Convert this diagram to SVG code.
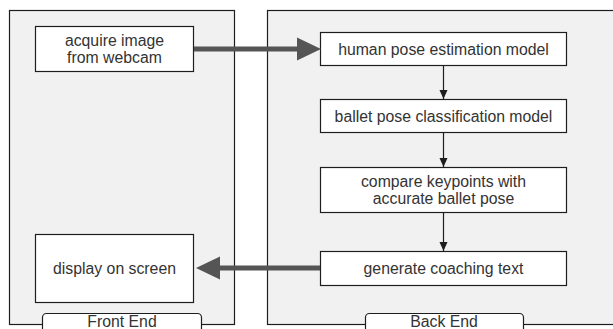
<svg xmlns="http://www.w3.org/2000/svg" width="613" height="329" viewBox="0 0 613 329">
  <defs>
    <style>
      .panel { fill: #f1f1f1; stroke: #1e1e1e; stroke-width: 1.2; }
      .box { fill: #ffffff; stroke: #1e1e1e; stroke-width: 1.2; }
      .lbl { fill: #ffffff; stroke: #1e1e1e; stroke-width: 1.2; }
      .t { font-family: "Liberation Sans", Arial, sans-serif; font-size: 15.8px; fill: #333333; text-anchor: middle; dominant-baseline: central; }
      .thick { stroke: #555555; stroke-width: 5; fill: none; }
      .thin { stroke: #1e1e1e; stroke-width: 1.2; fill: none; }
    </style>
    <marker id="small" markerUnits="userSpaceOnUse" markerWidth="10" markerHeight="10" refX="9" refY="5" orient="auto">
      <path d="M0,1 L9,5 L0,9 Z" fill="#1e1e1e"/>
    </marker>
  </defs>
  <rect width="613" height="329" fill="#ffffff"/>

  <g id="front-end">
    <rect class="panel" x="9.5" y="10.5" width="225" height="314"/>
    <rect class="lbl" x="42.5" y="313.5" width="159" height="24" rx="4"/>
    <text class="t" x="122" y="321.5">Front End</text>
  </g>
  <g id="back-end">
    <rect class="panel" x="267.5" y="10.5" width="360" height="314"/>
    <rect class="lbl" x="365.5" y="313.5" width="158" height="24" rx="4"/>
    <text class="t" x="444" y="321.5">Back End</text>
  </g>

  <g id="acquire">
    <rect class="box" x="35.5" y="26.5" width="158" height="45"/>
    <text class="t" x="114.5" y="40.5">acquire image</text>
    <text class="t" x="114.5" y="57.5">from webcam</text>
  </g>
  <g id="display">
    <rect class="box" x="35.5" y="234.5" width="158" height="68"/>
    <text class="t" x="114.5" y="268.5">display on screen</text>
  </g>
  <g id="pose-estimation">
    <rect class="box" x="320.5" y="32.5" width="246" height="33"/>
    <text class="t" x="443.5" y="49">human pose estimation model</text>
  </g>
  <g id="pose-classification">
    <rect class="box" x="320.5" y="99.5" width="246" height="33"/>
    <text class="t" x="443.5" y="116">ballet pose classification model</text>
  </g>
  <g id="compare">
    <rect class="box" x="320.5" y="167.5" width="246" height="45"/>
    <text class="t" x="443.5" y="181.5">compare keypoints with</text>
    <text class="t" x="443.5" y="198.5">accurate ballet pose</text>
  </g>
  <g id="generate">
    <rect class="box" x="320.5" y="251.5" width="246" height="34"/>
    <text class="t" x="443.5" y="268.5">generate coaching text</text>
  </g>

  <g id="connectors">
    <line class="thick" x1="194" y1="49" x2="298" y2="49"/>
    <path d="M297,37.5 L321,49 L297,60.5 Z" fill="#555555"/>
    <line class="thick" x1="320" y1="268" x2="219" y2="268"/>
    <path d="M220,256.5 L196,268 L220,279.5 Z" fill="#555555"/>
    <line class="thin" x1="443.5" y1="66" x2="443.5" y2="99" marker-end="url(#small)"/>
    <line class="thin" x1="443.5" y1="133" x2="443.5" y2="167" marker-end="url(#small)"/>
    <line class="thin" x1="443.5" y1="213" x2="443.5" y2="251" marker-end="url(#small)"/>
  </g>
</svg>
